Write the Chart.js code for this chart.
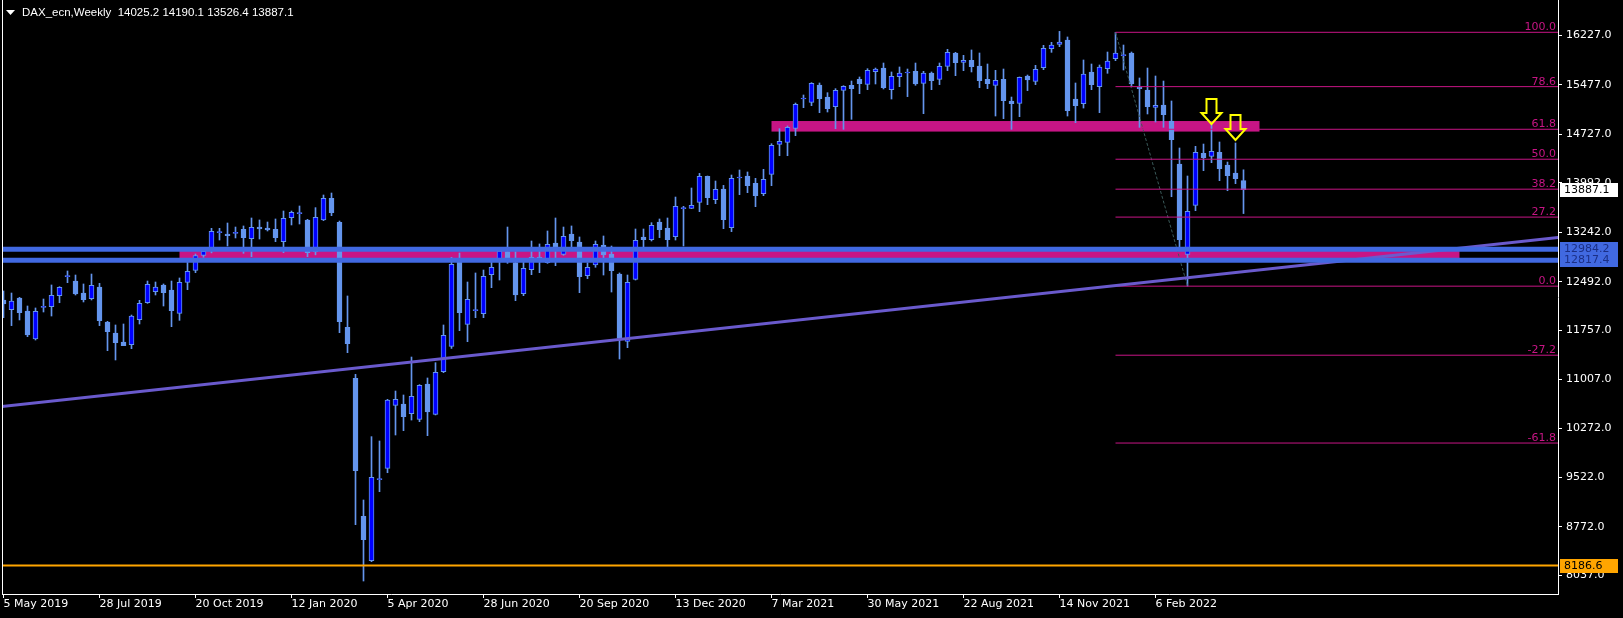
<!DOCTYPE html>
<html><head><meta charset="utf-8">
<script src="https://cdn.jsdelivr.net/npm/chart.js@4.4.1/dist/chart.umd.min.js"></script>
<style>html,body{margin:0;padding:0;background:#000;overflow:hidden}canvas{display:block}</style>
</head><body>
<canvas id="c" width="1623" height="618"></canvas>
<script>
// ---- weekly candles (index 0 = week of 5 May 2019) ----
const opens = [12215,12068,12245,12048,11623,12104,12114,12281,12569,12503,
 12321,12235,12412,11881,11714,11578,11537,11917,12174,12341,
 12443,12367,12013,12483,12665,12893,12960,13236,13216,13226,
 13287,13145,13322,13307,13287,13100,13464,13525,13429,12950,
 13429,13757,13393,11800,11027,8933,8260,9489,9661,10617,
 10637,10491,10405,10941,10481,11128,11512,12822,11846,12053,
 12008,12599,12800,12948,12781,12311,12675,12867,12781,13080,
 12908,13216,13095,12584,12746,13049,12913,12609,11588,12528,
 13171,13130,13398,13307,13176,13600,13605,13696,14091,13737,
 13899,13312,14066,14096,13985,13828,14121,14576,14607,14819,
 15264,15214,15477,15294,15148,15396,15472,15563,15487,15679,
 15735,15406,15603,15659,15684,15502,15659,15563,15760,15962,
 15820,15851,15765,15563,15472,15563,15234,15198,15613,15532,
 15740,16028,16093,16159,15264,15193,15674,15451,15724,15876,
 15921,15962,15446,15401,15138,15173,14930,14278,12908,13651,
 14440,14394,14455,14263,14141,14025.2];
const highs = [12352,12321,12255,12124,12094,12230,12443,12417,12655,12594,
 12458,12609,12468,11891,11836,11851,11987,12210,12503,12488,
 12458,12503,12549,12786,12913,12999,13302,13302,13383,13322,
 13338,13459,13429,13398,13444,13565,13565,13641,13439,13616,
 13808,13838,13413,12276,11087,9181,10142,10076,10708,10834,
 10774,11350,10931,11032,11264,11836,12862,12928,12488,12625,
 12670,12822,12990,13322,12948,12796,13110,13065,13262,13459,
 13322,13338,13171,12781,13110,13186,13034,12625,12594,13292,
 13292,13388,13444,13459,13777,13636,13914,14136,14096,14020,
 13954,14111,14187,14157,14061,14197,14586,14814,14855,15203,
 15325,15512,15507,15360,15421,15466,15537,15598,15724,15734,
 15810,15674,15750,15719,15810,15684,15674,15810,16018,15972,
 15927,16008,15962,15795,15699,15719,15294,15598,15628,15775,
 16078,16124,16290,16205,15507,15856,15795,15780,15977,16276,
 16083,15977,15583,15734,15613,15537,15234,14521,14096,14546,
 14581,14895,14612,14308,14597,14190.1];
const lows = [11947,11826,11912,11659,11608,12033,11972,12174,12478,12291,
 12185,12215,11826,11446,11305,11522,11477,11851,12164,12291,
 12124,11810,11906,12372,12630,12862,12930,13125,13034,13156,
 12923,12872,13140,13262,13100,12933,13353,13368,12872,12900,
 13419,13494,11719,11416,8807,7952,8245,9307,9595,10167,
 10233,10394,10369,10157,10471,11113,11480,11750,11583,11947,
 11947,12402,12518,12771,12205,12281,12599,12630,12771,12736,
 12893,13024,12326,12539,12711,12594,12336,11320,11492,12518,
 13024,13110,13161,13024,13125,13034,13600,13555,13661,13676,
 13297,13252,13813,13843,13631,13798,13949,14404,14404,14708,
 15133,15163,15057,15067,14814,14804,14956,15345,15406,15492,
 15416,15264,15451,15300,15472,15042,15406,15482,15694,15618,
 15694,15674,15436,15421,15006,14966,14804,14996,15391,15482,
 15709,15972,16058,15006,14905,15127,15406,15057,15654,15846,
 15704,15451,14834,15037,14915,14834,13782,13024,12425,13570,
 14177,14298,14025,13873,13980,13526.4];
const closes = [12154,12200,12023,11684,12043,12114,12286,12407,12579,12306,
 12220,12437,11901,11735,11568,11522,11972,12164,12453,12412,
 12326,12053,12483,12650,12887,12953,13257,13247,13191,13236,
 13161,13317,13292,13277,13161,13454,13545,13535,12933,13469,
 13757,13540,11886,11553,9626,8579,9525,9499,10698,10708,
 10445,10754,10920,10516,11118,11679,12756,12023,12225,12063,
 12574,12711,12958,12847,12291,12695,12862,12852,13060,12973,
 13181,13115,12569,12711,13060,12898,12660,11633,12483,13120,
 13130,13348,13282,13130,13636,13610,13651,14091,13767,13894,
 13434,14061,14076,13949,13798,14045,14561,14622,14834,15183,
 15274,15502,15269,15118,15396,15456,15421,15497,15699,15719,
 15436,15608,15659,15669,15492,15659,15542,15760,15972,15815,
 15851,15755,15542,15497,15547,15239,15193,15593,15553,15714,
 16033,16083,16129,15087,15163,15643,15482,15750,15841,15962,
 15931,15492,15421,15148,15168,15026,14647,13130,13560,14455,
 14374,14470,14207,14101,14055,13887.1];

// ---- axis ticks ----
const xTickIdx = [0,12,24,36,48,60,72,84,96,108,120,132,144];
const xTickLabels = ['5 May 2019','28 Jul 2019','20 Oct 2019','12 Jan 2020','5 Apr 2020','28 Jun 2020','20 Sep 2020','13 Dec 2020','7 Mar 2021','30 May 2021','22 Aug 2021','14 Nov 2021','6 Feb 2022'];
const yTickVals = [16227,15477,14727,13992,13242,12492,11757,11007,10272,9522,8772,8037];

// ---- drawn objects ----
const hLineLevels = [12984.2, 12817.4];
const orangeLevel = 8186.6;
const trendX = [-1, 196];
const trendY = [10588, 13186];
const zoneFrom = [96, 22];
const zoneTo = [157, 182];
const zoneHi = [14930, 12984.2];
const zoneLo = [14770, 12817.4];
const fibLevels = [100, 78.6, 61.8, 50, 38.2, 27.2, 0, -27.2, -61.8];
const fibHighIdx = 139, fibHigh = 16276;
const fibLowIdx = 148, fibLow = 12425;
const arrowIdx = [151, 154];
const arrowTip = [14885, 14642];
const headerText = 'DAX_ecn,Weekly  14025.2 14190.1 13526.4 13887.1';
const lastPrice = 13887.1;

const X_MIN = -0.1875, X_MAX = 194.3125;
const Y_MIN = 7755, Y_MAX = 16766;
const FONT = '11px "DejaVu Sans"';
const HEADER_FONT = '11.5px "Liberation Sans"';

const idx = opens.map((_, i) => i);
const BULL = '#0000FF', BEAR = '#6495ED', WICK = '#6495ED';

const fibVal = l => fibLow + (fibHigh - fibLow) * l / 100;
const lineDs = (pts, color, width, extra) => Object.assign({
  type: 'line', data: pts, borderColor: color, borderWidth: width,
  pointRadius: 0, tension: 0, fill: false, order: 1
}, extra || {});

const datasets = [];
hLineLevels.forEach(v => datasets.push(lineDs([{x: X_MIN - 2, y: v}, {x: X_MAX + 2, y: v}], '#4169E1', 5, {order: 0})));
datasets.push(lineDs([{x: X_MIN - 2, y: orangeLevel}, {x: X_MAX + 2, y: orangeLevel}], '#FFA500', 2, {order: 0}));
datasets.push(lineDs(trendX.map((x, i) => ({x, y: trendY[i]})), '#6A5ACD', 3, {order: 0}));
fibLevels.forEach(l => datasets.push(lineDs([{x: fibHighIdx, y: fibVal(l)}, {x: X_MAX + 2, y: fibVal(l)}], '#C71585', 1, {order: 1})));
datasets.push(lineDs([{x: fibHighIdx, y: fibHigh}, {x: fibLowIdx, y: fibLow}], '#3a5a5a', 1, {order: 1, borderDash: [3, 2]}));
datasets.push({
  type: 'bar', order: 5, grouped: false, barThickness: 5, minBarLength: 1,
  data: idx.map(i => ({x: i, y: [opens[i], closes[i]]})),
  backgroundColor: idx.map(i => closes[i] >= opens[i] ? BULL : BEAR),
  borderColor: WICK, borderWidth: 1, borderSkipped: false
});
datasets.push({
  type: 'bar', order: 6, grouped: false, barThickness: 1,
  data: idx.map(i => ({x: i, y: [lows[i], highs[i]]})),
  backgroundColor: WICK, borderWidth: 0
});

const overlay = {
  id: 'overlay',
  beforeDatasetsDraw(chart) {
    const {ctx, chartArea: a, scales: {x, y}} = chart;
    ctx.save();
    ctx.beginPath(); ctx.rect(a.left, a.top, a.right - a.left, a.bottom - a.top); ctx.clip();
    ctx.fillStyle = '#C71585';
    zoneFrom.forEach((f, i) => {
      const x0 = x.getPixelForValue(f), x1 = x.getPixelForValue(zoneTo[i]);
      const y0 = y.getPixelForValue(zoneHi[i]), y1 = y.getPixelForValue(zoneLo[i]);
      ctx.fillRect(x0, y0, x1 - x0, y1 - y0);
    });
    ctx.restore();
  },
  afterDatasetsDraw(chart) {
    const {ctx, chartArea: a, scales: {x, y}} = chart;
    ctx.save();
    // fib labels
    ctx.font = FONT; ctx.fillStyle = '#C71585'; ctx.textAlign = 'right'; ctx.textBaseline = 'alphabetic';
    fibLevels.forEach(l => {
      ctx.fillText(l.toFixed(1), a.right - 2, Math.round(y.getPixelForValue(fibVal(l))) - 2);
    });
    // arrows
    ctx.strokeStyle = '#FFFF00'; ctx.lineWidth = 2; ctx.lineJoin = 'miter';
    arrowIdx.forEach((k, i) => {
      const cx = x.getPixelForValue(k), ty = y.getPixelForValue(arrowTip[i]);
      const hw = 10, sw = 5, hh = 11, H = 25;
      ctx.beginPath();
      ctx.moveTo(cx, ty);
      ctx.lineTo(cx - hw, ty - hh); ctx.lineTo(cx - sw, ty - hh); ctx.lineTo(cx - sw, ty - H);
      ctx.lineTo(cx + sw, ty - H); ctx.lineTo(cx + sw, ty - hh); ctx.lineTo(cx + hw, ty - hh);
      ctx.closePath(); ctx.stroke();
    });
    ctx.restore();
  },
  afterDraw(chart) {
    const {ctx, chartArea: a, scales: {y}} = chart;
    ctx.save();
    // left frame line
    ctx.strokeStyle = '#fff'; ctx.lineWidth = 1;
    ctx.beginPath(); ctx.moveTo(a.left + 0.5, a.top); ctx.lineTo(a.left + 0.5, a.bottom); ctx.stroke();
    // header
    ctx.fillStyle = '#fff';
    ctx.beginPath(); ctx.moveTo(6, 10); ctx.lineTo(15, 10); ctx.lineTo(10.5, 15); ctx.closePath(); ctx.fill();
    ctx.font = HEADER_FONT; ctx.textAlign = 'left'; ctx.textBaseline = 'middle';
    ctx.fillText(headerText, 22, 13);
    // price boxes
    ctx.font = FONT;
    const box = (v, bg, fg) => {
      const py = Math.round(y.getPixelForValue(v));
      ctx.fillStyle = bg; ctx.fillRect(a.right + 2, py - 7, 58, 14);
      ctx.fillStyle = fg; ctx.textBaseline = 'middle'; ctx.fillText(v.toFixed(1), a.right + 6, py + 0.5);
    };
    box(lastPrice, '#ffffff', '#000000');
    hLineLevels.forEach(v => box(v, '#4169E1', '#1b2f86'));
    box(orangeLevel, '#FFA500', '#000000');
    ctx.restore();
  }
};

new Chart(document.getElementById('c'), {
  type: 'bar',
  data: {datasets},
  options: {
    responsive: false, animation: false, devicePixelRatio: 1,
    layout: {padding: {left: 2, right: 0, top: 0, bottom: 0}},
    plugins: {legend: {display: false}, tooltip: {enabled: false}},
    scales: {
      x: {
        type: 'linear', min: X_MIN, max: X_MAX, offset: false, position: 'bottom',
        grid: {display: true, offset: false, drawOnChartArea: false, drawTicks: true, tickLength: 4, color: '#ffffff'},
        border: {display: true, color: '#ffffff', width: 1},
        ticks: {color: '#ffffff', font: {family: 'DejaVu Sans', size: 11}, align: 'start', maxRotation: 0, autoSkip: false, padding: 0,
          callback: (v, i) => xTickLabels[i]},
        afterBuildTicks: s => { s.ticks = xTickIdx.map(v => ({value: v})); },
        afterFit: s => { s.height = 24; s.paddingLeft = 0; s.paddingRight = 0; s.paddingTop = 0; s.paddingBottom = 0; }
      },
      y: {
        type: 'linear', min: Y_MIN, max: Y_MAX, position: 'right',
        grid: {display: true, drawOnChartArea: false, drawTicks: true, tickLength: 4, color: '#ffffff'},
        border: {display: true, color: '#ffffff', width: 1},
        ticks: {color: '#ffffff', font: {family: 'DejaVu Sans', size: 11}, padding: 4, autoSkip: false,
          callback: v => Number(v).toFixed(1)},
        afterBuildTicks: s => { s.ticks = yTickVals.map(v => ({value: v})); },
        afterFit: s => { s.width = 65; s.paddingLeft = 0; s.paddingRight = 0; s.paddingTop = 0; s.paddingBottom = 0; }
      }
    }
  },
  plugins: [overlay]
});
</script>
</body></html>
